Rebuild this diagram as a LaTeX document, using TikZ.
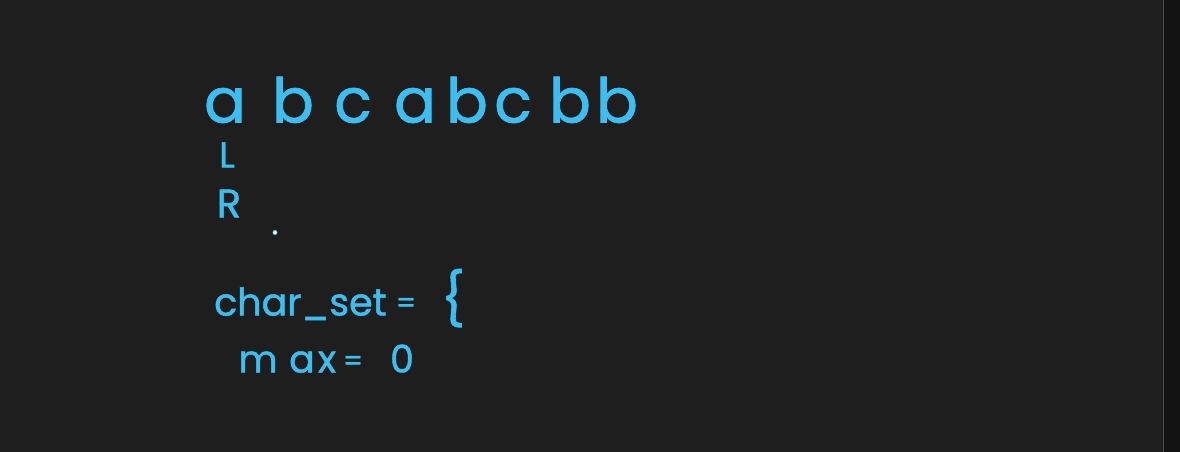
\documentclass[tikz,border=0pt]{standalone}
\usepackage{fontspec}
\setmainfont{Poppins}[FakeBold=1.2,AutoFakeBold=1.2]
\definecolor{bg}{HTML}{1E1E1E}
\definecolor{side}{HTML}{121212}
\definecolor{ink}{HTML}{3CBEF0}
\begin{document}
\begin{tikzpicture}[x=1pt,y=-1pt,
  hw/.style={text=ink, inner sep=0pt, anchor=base, font=\bfseries},
  big/.style={hw, font=\bfseries\fontsize{62}{62}\selectfont},
  mid/.style={hw, font=\bfseries\fontsize{38}{38}\selectfont},
  eqs/.style={hw, font=\bfseries\fontsize{28}{28}\selectfont},
  sml/.style={hw, font=\bfseries\fontsize{36}{36}\selectfont}]
\fill[bg] (0,0) rectangle (1180,451);
\fill[side] (1164,0) rectangle (1180,451);
\draw[gray!60!black, line width=1pt] (1163.5,0) -- (1163.5,451);
\useasboundingbox (0,0) rectangle (1180,451);
% string
\node[big] (c1) at (225,122) {a};
\node[big] (c2) at (293,122) {b};
\node[big] (c3) at (353,122) {c};
\node[big] (c4) at (415,122) {a};
\node[big] (c5) at (467,122) {b};
\node[big] (c6) at (513,122) {c};
\node[big] (c7) at (570,122) {b};
\node[big] (c8) at (617,122) {b};
% pointers
\node[sml] (L) at (227,167) {L};
\node[sml, font=\bfseries\fontsize{40}{40}\selectfont] (R) at (229,217) {R};
\node[circle, draw=ink!70!white, fill=white, line width=0.8pt, minimum size=4pt, inner sep=0pt] (dot) at (275,232) {};
% char_set
\node[mid, anchor=base west] (cs) at (214,315) {char\_set};
\node[eqs] (eq1) at (406,312) {=};
\node[hw, font=\bfseries\fontsize{52}{52}\selectfont] (br) at (453,317) {\{};
% max
\node[mid] (m) at (258,372) {m};
\node[mid] (a) at (302,372) {a};
\node[mid] (x) at (327,372) {x};
\node[eqs] (eq2) at (353,370) {=};
\node[mid] (z) at (402,372) {0};
\end{tikzpicture}
\end{document}
